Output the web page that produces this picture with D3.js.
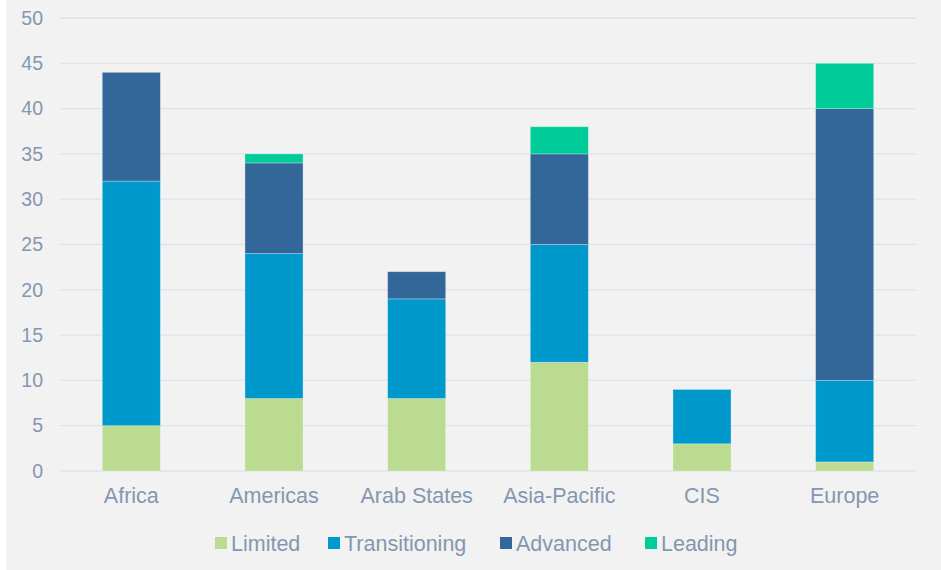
<!DOCTYPE html>
<html>
<head>
<meta charset="utf-8">
<script src="https://cdn.jsdelivr.net/npm/d3@7"></script>
<style>
  body { margin: 0; background: #fff; }
  svg { display: block; font-family: Arial, "Liberation Sans", sans-serif; }
</style>
</head>
<body>
<div id="chart-area"></div>
<script>
var regions = ['Africa', 'Americas', 'Arab States', 'Asia-Pacific', 'CIS', 'Europe'];
var seriesNames = ['Limited', 'Transitioning', 'Advanced', 'Leading'];
var limited = [5, 8, 8, 12, 3, 1];
var transitioning = [27, 16, 11, 13, 6, 9];
var advanced = [12, 10, 3, 10, 0, 30];
var leading = [0, 1, 0, 3, 0, 5];
var yTicks = [0, 5, 10, 15, 20, 25, 30, 35, 40, 45, 50];

var colors = ['#bbdc90', '#0099cc', '#336699', '#00cc99'];
var textColor = '#8497b0';

var W = 941, H = 570;
var margin = { top: 18, left: 60, bottom: 99, right: 25 };
var width = W - margin.left - margin.right;
var height = H - margin.top - margin.bottom;

var svg = d3.select('#chart-area').append('svg')
    .attr('width', W)
    .attr('height', H);

svg.append('rect')
    .attr('x', 6).attr('y', 0)
    .attr('width', W - 6).attr('height', H)
    .attr('fill', '#f2f2f2');

var g = svg.append('g').attr('transform', `translate(${margin.left}, ${margin.top})`);

var data = regions.map((r, i) => ({
    region: r,
    Limited: limited[i],
    Transitioning: transitioning[i],
    Advanced: advanced[i],
    Leading: leading[i]
}));

var x = d3.scaleBand().domain(regions).range([0, width]).paddingInner(0.593).paddingOuter(0.2965);
var y = d3.scaleLinear().domain([0, 50]).range([height, 0]);

// gridlines
g.selectAll('.grid').data(yTicks).enter()
    .append('line')
    .attr('class', 'grid')
    .attr('x1', 0).attr('x2', width)
    .attr('y1', d => y(d)).attr('y2', d => y(d))
    .attr('stroke', '#dde3ea')
    .attr('stroke-width', 1.3);

var yAxis = g.append('g').call(d3.axisLeft(y).tickValues(yTicks).tickSize(0).tickPadding(17));
yAxis.select('.domain').remove();
yAxis.selectAll('text')
    .attr('fill', textColor)
    .attr('font-size', '19.5px');

var xAxis = g.append('g')
    .attr('transform', `translate(0, ${height})`)
    .call(d3.axisBottom(x).tickSize(0).tickPadding(17));
xAxis.select('.domain').remove();
xAxis.selectAll('text')
    .attr('fill', textColor)
    .attr('font-size', '21.5px');

var stack = d3.stack().keys(seriesNames);
var layers = stack(data);

g.selectAll('.layer').data(layers).enter()
    .append('g')
    .attr('class', 'layer')
    .attr('fill', (d, i) => colors[i])
  .selectAll('rect').data(d => d.filter(s => s[1] - s[0] > 0)).enter()
    .append('rect')
    .attr('x', d => x(d.data.region))
    .attr('width', x.bandwidth())
    .attr('y', d => y(d[1]))
    .attr('height', d => y(d[0]) - y(d[1]))
    .attr('stroke', '#ffffff')
    .attr('stroke-opacity', 0.35)
    .attr('stroke-width', 0.8);

// legend
var legendX = [215, 328, 500, 645];
var legend = svg.append('g').attr('transform', 'translate(0, 543)');
var items = legend.selectAll('.item').data(seriesNames).enter()
    .append('g')
    .attr('transform', (d, i) => `translate(${legendX[i]}, 0)`);
items.append('rect')
    .attr('x', 0).attr('y', -6)
    .attr('width', 12).attr('height', 12)
    .attr('fill', (d, i) => colors[i]);
items.append('text')
    .attr('x', 16).attr('y', 8)
    .attr('fill', textColor)
    .attr('font-size', '21.5px')
    .text(d => d);
</script>
</body>
</html>
